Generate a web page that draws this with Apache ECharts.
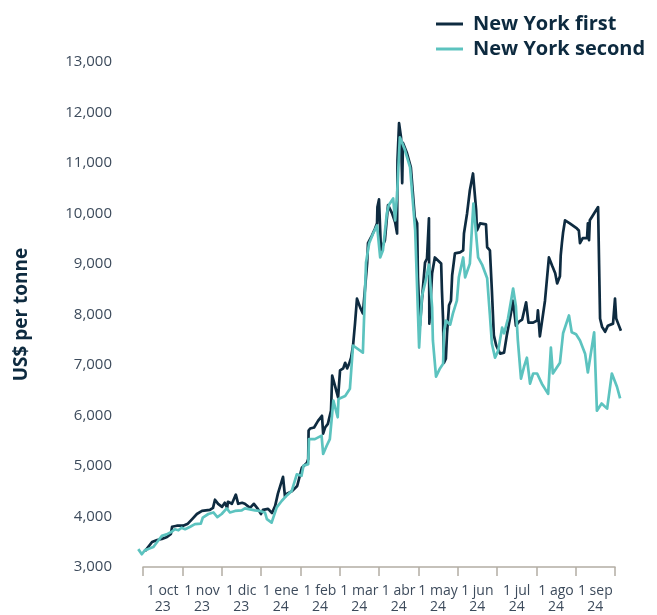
<!DOCTYPE html>
<html>
<head>
<meta charset="utf-8">
<script src="https://cdn.jsdelivr.net/npm/echarts@6/dist/echarts.min.js"></script>
<style>
html,body{margin:0;padding:0;background:#fff;overflow:hidden;}
#chart{width:657px;height:615px;}
</style>
</head>
<body>
<div id="chart"></div>
<script>
// Month bands on the x axis (tick marks sit at band boundaries)
const monthLabels = ['1 oct\n23','1 nov\n23','1 dic\n23','1 ene\n24','1 feb\n24','1 mar\n24','1 abr\n24','1 may\n24','1 jun\n24','1 jul\n24','1 ago\n24','1 sep\n24'];
const yTicks = [3000, 13000, 1000];
// Data span in months since 1 oct 23 (first and last observation)
const posRange = [-0.12, 12.15];

// New York first: position in months since 1 oct 23, price US$/t
const firstPos = [0.05,0.10,0.23,0.36,0.48,0.61,0.71,0.74,0.86,1.02,1.14,1.25,1.37,1.50,1.70,1.78,1.83,1.91,2.01,2.08,2.14,2.16,2.26,2.36,2.42,2.52,2.59,2.72,2.82,2.92,3.00,3.05,3.18,3.28,3.36,3.43,3.56,3.61,3.66,3.79,3.92,4.04,4.17,4.20,4.21,4.25,4.35,4.45,4.55,4.58,4.63,4.70,4.78,4.81,4.88,4.96,5.01,5.09,5.14,5.19,5.24,5.29,5.34,5.39,5.44,5.52,5.59,5.64,5.70,5.72,5.82,5.90,5.95,5.96,6.00,6.03,6.05,6.10,6.15,6.23,6.33,6.41,6.46,6.47,6.51,6.56,6.59,6.61,6.71,6.81,6.91,6.97,6.99,7.04,7.09,7.17,7.22,7.27,7.28,7.35,7.42,7.58,7.60,7.63,7.64,7.65,7.70,7.73,7.78,7.83,7.86,7.93,8.06,8.14,8.16,8.21,8.24,8.31,8.39,8.44,8.47,8.49,8.57,8.72,8.75,8.82,8.87,8.92,8.98,9.08,9.18,9.25,9.33,9.41,9.48,9.56,9.64,9.74,9.79,9.80,9.92,10.02,10.04,10.09,10.22,10.32,10.40,10.48,10.53,10.60,10.62,10.65,10.68,10.73,10.85,11.03,11.08,11.11,11.18,11.29,11.31,11.34,11.36,11.44,11.57,11.62,11.67,11.75,11.82,11.95,12.00,12.03,12.08,12.15];
const firstPrice = [3390,3370,3570,3610,3630,3670,3730,3870,3890,3890,3930,4020,4120,4180,4200,4240,4400,4320,4260,4340,4240,4360,4320,4500,4320,4340,4320,4240,4320,4220,4120,4200,4220,4140,4280,4520,4850,4460,4520,4570,4670,5030,5130,5200,5760,5800,5820,5950,6050,5700,5820,5890,6150,6840,6640,6410,6940,6980,7090,6980,7070,7190,7430,7860,8350,8180,8060,8510,9060,9440,9590,9730,9830,10150,10300,10300,9300,9280,9500,10190,10030,9850,9630,11070,11800,11520,10620,11410,11210,10930,9950,9830,8770,7820,8310,9060,9140,9930,7860,8850,9160,9040,8510,7920,7330,7090,7170,7670,8220,8310,8810,9240,9260,9300,9630,9630,10030,10480,10810,10780,10090,9690,9830,9810,9360,9300,8510,7630,7430,7270,7290,7630,7960,8310,7820,7900,7940,8280,8310,7880,7880,7920,8120,7610,8310,9160,9000,8850,8650,8790,9200,9440,9650,9890,9830,9730,9690,9440,9540,9540,9830,9500,9890,9990,10150,7960,7800,7700,7820,7860,8350,7960,7860,7720];

// New York second
const secondPos = [-0.12,-0.03,0.05,0.13,0.26,0.35,0.48,0.60,0.73,0.81,0.90,0.98,1.07,1.20,1.32,1.47,1.52,1.66,1.79,1.89,2.00,2.13,2.21,2.34,2.51,2.59,2.72,2.85,2.97,3.10,3.15,3.27,3.40,3.53,3.65,3.78,3.91,4.03,4.08,4.20,4.22,4.37,4.54,4.58,4.67,4.75,4.84,4.95,4.97,5.14,5.26,5.34,5.59,5.67,5.75,5.85,5.95,6.03,6.10,6.15,6.20,6.25,6.36,6.41,6.46,6.53,6.59,6.66,6.79,6.92,7.02,7.09,7.17,7.27,7.35,7.37,7.45,7.55,7.63,7.65,7.70,7.81,7.88,7.98,8.03,8.14,8.19,8.31,8.40,8.52,8.62,8.75,8.82,8.87,8.95,9.03,9.13,9.18,9.28,9.41,9.48,9.53,9.61,9.69,9.76,9.84,9.92,10.02,10.14,10.30,10.37,10.42,10.60,10.68,10.83,10.90,11.01,11.11,11.24,11.31,11.47,11.54,11.66,11.80,11.92,12.05,12.13];
const secondPrice = [3430,3330,3410,3430,3470,3560,3690,3720,3770,3820,3800,3850,3820,3870,3920,3930,4050,4120,4150,4060,4120,4230,4150,4180,4190,4230,4210,4190,4180,4150,4020,3950,4250,4380,4480,4570,4900,4870,5070,5100,5590,5590,5660,5300,5460,5590,6350,6020,6380,6440,6580,7430,7290,9060,9440,9630,9790,9160,9300,9300,10030,10190,10320,9890,10400,11520,11410,11270,10930,9690,7390,8390,8650,9020,8180,7530,6820,6980,7070,7670,7920,7840,8060,8310,8770,9160,8770,9040,10220,9160,9020,8750,8020,7470,7190,7330,7780,7670,7960,8550,8200,7530,6780,7020,7190,6680,6880,6880,6680,6480,7390,6880,7090,7670,8020,7690,7650,7530,7270,6900,7690,6150,6290,6190,6880,6620,6390];

const pair = (xs, ys) => xs.map((x, i) => [x, ys[i]]);
const fmt = v => String(v).replace(/\B(?=(\d{3})+(?!\d))/g, ',');

// Layout: month axis spans 143..615 px; the data grid extends it to cover posRange
const AX_L = 143, AX_R = 615, W = 657;
const pxPerMonth = (AX_R - AX_L) / monthLabels.length;
const dataLeft = AX_L + posRange[0] * pxPerMonth;
const dataRight = W - (AX_R + (posRange[1] - monthLabels.length) * pxPerMonth);

const chart = echarts.init(document.getElementById('chart'), null, {renderer: 'canvas'});
const FONT = 'Open Sans';
chart.setOption({
  animation: false,
  backgroundColor: '#ffffff',
  textStyle: {fontFamily: FONT},
  legend: {
    orient: 'vertical',
    left: 431, top: 9,
    itemWidth: 27, itemHeight: 3, itemGap: 5,
    icon: 'rect',
    textStyle: {fontFamily: FONT, fontSize: 20, fontWeight: 'bold', color: '#0d2a3f', padding: [0,0,0,5]},
    data: ['New York first', 'New York second']
  },
  grid: [
    {left: AX_L, right: W - AX_R, top: 62, bottom: 44, containLabel: false},
    {left: dataLeft, right: dataRight, top: 62, bottom: 44, containLabel: false}
  ],
  xAxis: [
    {
      type: 'category', gridIndex: 0, data: monthLabels, boundaryGap: true,
      axisLine: {show: true, lineStyle: {color: '#b3ada4', width: 1.5}},
      axisTick: {show: true, length: 9, lineStyle: {color: '#b3ada4', width: 1.5}},
      axisLabel: {color: '#3d4b5c', fontSize: 14, margin: 16, lineHeight: 16, interval: 0},
      splitLine: {show: false}
    },
    {type: 'value', gridIndex: 1, min: posRange[0], max: posRange[1], show: false}
  ],
  yAxis: [
    {
      type: 'value', gridIndex: 0, min: yTicks[0], max: yTicks[1], interval: yTicks[2],
      axisLine: {show: false}, axisTick: {show: false}, splitLine: {show: false},
      axisLabel: {color: '#3d4b5c', fontSize: 15, margin: 31, formatter: fmt},
      name: 'US$ per tonne', nameLocation: 'middle', nameGap: 112, nameRotate: 90,
      nameTextStyle: {fontFamily: FONT, fontSize: 19, fontWeight: 'bold', color: '#0d2a3f'}
    },
    {type: 'value', gridIndex: 1, min: yTicks[0], max: yTicks[1], show: false}
  ],
  series: [
    {
      name: 'New York first', type: 'line', xAxisIndex: 1, yAxisIndex: 1, data: pair(firstPos, firstPrice),
      showSymbol: false, clip: false, color: '#0e2b40',
      lineStyle: {width: 2.7, color: '#0e2b40', join: 'round'}, z: 2
    },
    {
      name: 'New York second', type: 'line', xAxisIndex: 1, yAxisIndex: 1, data: pair(secondPos, secondPrice),
      showSymbol: false, clip: false, color: '#5cc3bf',
      lineStyle: {width: 2.7, color: '#5cc3bf', join: 'round'}, z: 3
    }
  ]
});
</script>
</body>
</html>
